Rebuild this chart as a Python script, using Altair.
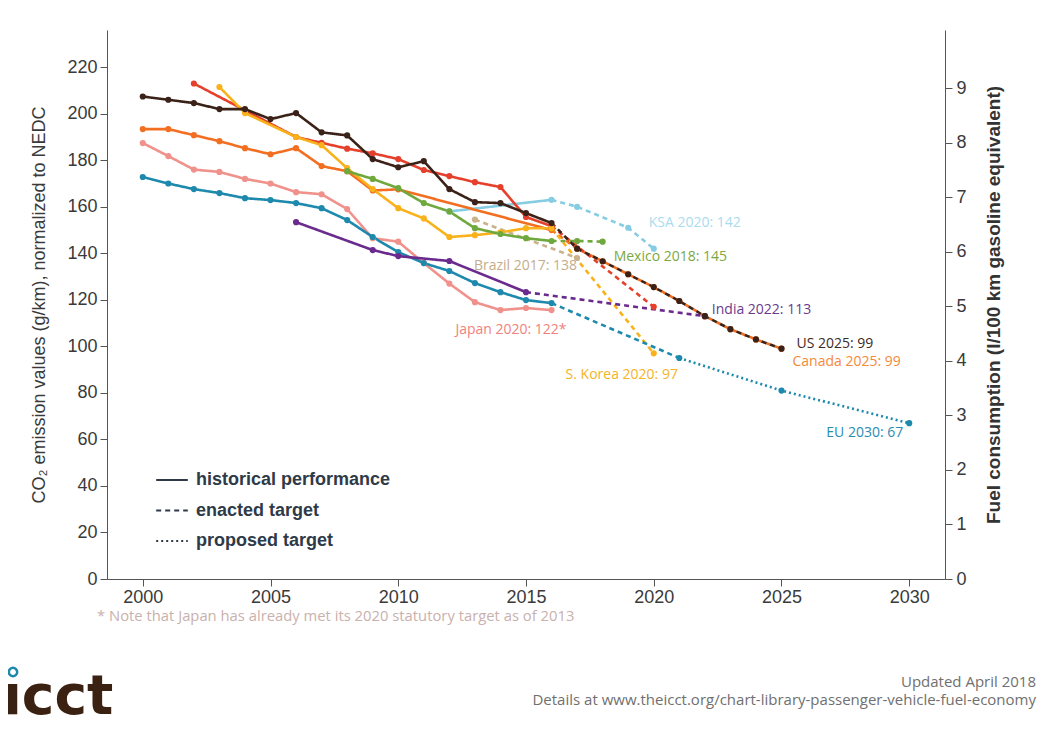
import altair as alt
import pandas as pd

# ---------------- data ----------------
HIST, ENACTED, PROPOSED = "historical performance", "enacted target", "proposed target"

KSA_hist_years = [2012, 2016]
KSA_hist_vals = [158, 163]
KSA_enacted_years = [2017, 2019, 2020]
KSA_enacted_vals = [160, 151, 142]

BR_hist_years = [2013]
BR_hist_vals = [154.5]
BR_enacted_years = [2017]
BR_enacted_vals = [138]

CA_hist_years = [2000, 2001, 2002, 2003, 2004, 2005, 2006, 2007, 2008, 2009, 2010, 2016]
CA_hist_vals = [193.4, 193.4, 190.8, 188.2, 185.2, 182.6, 185.2, 177.5, 175.3, 167.0, 167.5, 150.0]
CA_enacted_years = [2017, 2018, 2019, 2020, 2021, 2022, 2023, 2024, 2025]
CA_enacted_vals = [142, 136.6, 131, 125.5, 119.5, 113, 107.4, 103, 99]

CN_hist_years = [2002, 2006, 2007, 2008, 2009, 2010, 2011, 2012, 2013, 2014, 2015, 2016]
CN_hist_vals = [213, 190, 187.5, 185, 183, 180.5, 175.8, 173.2, 170.6, 168.5, 155.6, 151.7]
CN_enacted_years = [2020]
CN_enacted_vals = [117]

KR_hist_years = [2003, 2004, 2006, 2007, 2008, 2009, 2010, 2011, 2012, 2013, 2014, 2015, 2016]
KR_hist_vals = [211.5, 200.3, 190, 186.5, 176.6, 167.6, 159.4, 155, 147, 147.8, 149, 150.8, 150.8]
KR_enacted_years = [2020]
KR_enacted_vals = [97]

MX_hist_years = [2008, 2009, 2010, 2011, 2012, 2013, 2014, 2015, 2016]
MX_hist_vals = [175.3, 172, 168, 161.6, 158, 150.8, 148.3, 146.5, 145.3]
MX_enacted_years = [2017, 2018]
MX_enacted_vals = [145.3, 145]

JP_hist_years = list(range(2000, 2017))
JP_hist_vals = [187.4, 181.8, 176, 175, 172, 170, 166.3, 165.4, 159, 146.5, 145, 135.8, 127, 119, 115.6, 116.5, 115.6]

EU_hist_years = list(range(2000, 2017))
EU_hist_vals = [172.8, 170, 167.6, 165.9, 163.7, 162.9, 161.6, 159.4, 154.3, 147, 140.5, 135.8, 132.4, 127.2, 123.3, 119.9, 118.6]
EU_enacted_years = [2021]
EU_enacted_vals = [95]
EU_proposed_years = [2025, 2030]
EU_proposed_vals = [81, 67]

IN_hist_years = [2006, 2009, 2010, 2012, 2015]
IN_hist_vals = [153.4, 141.4, 138.8, 136.7, 123.3]
IN_enacted_years = [2022]
IN_enacted_vals = [113]

US_hist_years = list(range(2000, 2017))
US_hist_vals = [207.4, 206.0, 204.6, 202.0, 202.0, 197.7, 200.3, 192.0, 190.7, 180.5, 177.0, 179.6, 167.6, 162.0, 161.6, 157.3, 153.0]
US_enacted_years = [2017, 2018, 2019, 2020, 2021, 2022, 2023, 2024, 2025]
US_enacted_vals = [142, 136.6, 131, 125.5, 119.5, 113, 107.4, 103, 99]

countries = ["KSA", "Brazil", "Canada", "China", "S. Korea", "Mexico", "Japan", "EU", "India", "US"]
country_colors = ["#86cde3", "#c9b28c", "#f26f22", "#e5402b", "#f9b21b", "#6fa83d", "#f0918b", "#1d89ad", "#6b2a8d", "#3b2218"]

label_texts = ["KSA 2020: 142", "Mexico 2018: 145", "Brazil 2017: 138", "India 2022: 113", "Japan 2020: 122*",
               "US 2025: 99", "Canada 2025: 99", "S. Korea 2020: 97", "EU 2030: 67"]
label_years = [2020, 2018, 2017, 2022, 2016, 2025, 2025, 2020, 2030]
label_vals = [142, 145, 138, 113, 115.6, 99, 99, 97, 67]
label_colors = ["#a9dced", "#7ba843", "#c4ad8a", "#6b3a8d", "#f0827b", "#3d2a22", "#f5893a", "#f5b325", "#2b8bb0"]

y_ticks = list(range(0, 221, 20))
y2_ticks = list(range(0, 10))
x_ticks = [2000, 2005, 2010, 2015, 2020, 2025, 2030]

# ---------------- build tables ----------------
series = [
    ("KSA", KSA_hist_years, KSA_hist_vals, KSA_enacted_years, KSA_enacted_vals, [], []),
    ("Brazil", BR_hist_years, BR_hist_vals, BR_enacted_years, BR_enacted_vals, [], []),
    ("Canada", CA_hist_years, CA_hist_vals, CA_enacted_years, CA_enacted_vals, [], []),
    ("China", CN_hist_years, CN_hist_vals, CN_enacted_years, CN_enacted_vals, [], []),
    ("S. Korea", KR_hist_years, KR_hist_vals, KR_enacted_years, KR_enacted_vals, [], []),
    ("Mexico", MX_hist_years, MX_hist_vals, MX_enacted_years, MX_enacted_vals, [], []),
    ("Japan", JP_hist_years, JP_hist_vals, [], [], [], []),
    ("EU", EU_hist_years, EU_hist_vals, EU_enacted_years, EU_enacted_vals, EU_proposed_years, EU_proposed_vals),
    ("India", IN_hist_years, IN_hist_vals, IN_enacted_years, IN_enacted_vals, [], []),
    ("US", US_hist_years, US_hist_vals, US_enacted_years, US_enacted_vals, [], []),
]

line_rows, pt_rows = [], []
order = 0
for name, hy, hv, ey, ev, py, pv in series:
    for yr, v in zip(hy, hv):
        line_rows.append(dict(country=name, seg=name + "|h", kind=HIST, year=yr, value=v, o=order))
        pt_rows.append(dict(country=name, year=yr, value=v, o=order))
    order += 1
    last = (hy[-1], hv[-1])
    if ey:
        for yr, v in [last] + list(zip(ey, ev)):
            line_rows.append(dict(country=name, seg=name + "|e", kind=ENACTED, year=yr, value=v, o=order))
        for yr, v in zip(ey, ev):
            pt_rows.append(dict(country=name, year=yr, value=v, o=order))
        last = (ey[-1], ev[-1])
        order += 1
    if py:
        for yr, v in [last] + list(zip(py, pv)):
            line_rows.append(dict(country=name, seg=name + "|p", kind=PROPOSED, year=yr, value=v, o=order))
        for yr, v in zip(py, pv):
            pt_rows.append(dict(country=name, year=yr, value=v, o=order))
        order += 1

lines_df = pd.DataFrame(line_rows)
pts_df = pd.DataFrame(pt_rows)

W, H = 838, 549
x_scale = alt.Scale(domain=[1998.6, 2031.4], nice=False, zero=False)
y_scale = alt.Scale(domain=[0, 236], nice=False)
color_scale = alt.Scale(domain=countries, range=country_colors)
dash_scale = alt.Scale(domain=[HIST, ENACTED, PROPOSED], range=[[1, 0], [5, 4], [2, 3]])

AX_FONT = "Liberation Sans"
TXT_FONT = "Open Sans"

x_enc = alt.X("year:Q", scale=x_scale,
              axis=alt.Axis(values=x_ticks, format="d", title=None, grid=False,
                            labelFont=AX_FONT, labelFontSize=18, labelColor="#3a3a3a",
                            tickSize=7, tickColor="#555", domainColor="#555", labelPadding=2))
y_enc = alt.Y("value:Q", scale=y_scale,
              axis=alt.Axis(values=y_ticks, title="CO₂ emission values (g/km), normalized to NEDC",
                            grid=False, labelFont=AX_FONT, labelFontSize=18, labelColor="#3a3a3a",
                            tickSize=7, tickColor="#555", domainColor="#555", labelPadding=3,
                            titleFont=AX_FONT, titleFontSize=18, titleFontWeight="normal",
                            titleColor="#3a3a3a", titlePadding=18))

lines = alt.Chart(lines_df).mark_line(strokeWidth=2.6).encode(
    x=x_enc, y=y_enc,
    color=alt.Color("country:N", scale=color_scale, legend=None),
    strokeDash=alt.StrokeDash("kind:N", scale=dash_scale,
                              legend=alt.Legend(orient="none", legendX=48, legendY=433, title=None,
                                                symbolType="stroke", symbolStrokeColor="#2e3a48",
                                                symbolStrokeWidth=2.2, symbolSize=1000,
                                                labelFont=AX_FONT, labelFontSize=18, labelFontWeight="bold",
                                                labelColor="#2e3a48", labelOffset=7, rowPadding=4.5,
                                                labelLimit=0)),
    detail="seg:N",
    order="year:Q",
)

points = alt.Chart(pts_df).mark_circle(size=38, opacity=1).encode(
    x=alt.X("year:Q", scale=x_scale), y=alt.Y("value:Q", scale=y_scale),
    color=alt.Color("country:N", scale=color_scale, legend=None),
    order="o:Q",
)

label_layers = []
label_style = [("left", -5, -26), ("left", 11, 15), ("right", 0, 8), ("left", 7, -6), ("right", 15, 20),
               ("left", 15, -5), ("left", 11, 13), ("center", -32, 22), ("right", -6, 10)]
for t, yr, v, c, (al, dx, dy) in zip(label_texts, label_years, label_vals, label_colors, label_style):
    df = pd.DataFrame({"year": [yr], "value": [v], "t": [t]})
    label_layers.append(
        alt.Chart(df).mark_text(align=al, baseline="middle", dx=dx, dy=dy, font=TXT_FONT,
                                fontSize=14, color=c).encode(
            x=alt.X("year:Q", scale=x_scale), y=alt.Y("value:Q", scale=y_scale), text="t:N")
    )

right_df = pd.DataFrame({"fc": y2_ticks})
right_axis = alt.Chart(right_df).mark_point(opacity=0).encode(
    y=alt.Y("fc:Q", scale=alt.Scale(domain=[0, 236 / 23.45], nice=False),
            axis=alt.Axis(orient="right", values=y2_ticks, title="Fuel consumption (l/100 km gasoline equivalent)",
                          grid=False, labelFont=AX_FONT, labelFontSize=18, labelColor="#3a3a3a",
                          tickSize=7, tickColor="#555", domainColor="#555", labelPadding=4,
                          titleFont=AX_FONT, titleFontSize=19, titleFontWeight="bold",
                          titleColor="#333", titleAngle=270, titlePadding=37))
)

footnote = alt.Chart(pd.DataFrame({"t": ["* Note that Japan has already met its 2020 statutory target as of 2013"]})).mark_text(
    align="left", baseline="middle", font=TXT_FONT, fontSize=14.8, color="#c9b1ad").encode(
    text="t:N", x=alt.value(-10), y=alt.value(587))

upd = alt.Chart(pd.DataFrame({"t": ["Updated April 2018"]})).mark_text(
    align="right", baseline="middle", font=TXT_FONT, fontSize=15, color="#707070").encode(
    text="t:N", x=alt.value(929), y=alt.value(652))
det = alt.Chart(pd.DataFrame({"t": ["Details at www.theicct.org/chart-library-passenger-vehicle-fuel-economy"]})).mark_text(
    align="right", baseline="middle", font=TXT_FONT, fontSize=15, color="#707070").encode(
    text="t:N", x=alt.value(929), y=alt.value(670))

logo = alt.Chart(pd.DataFrame({"t": ["ıcct"]})).mark_text(
    align="left", baseline="alphabetic", font="DejaVu Sans", fontSize=55, fontWeight="bold",
    color="#3b2112").encode(
    text="t:N", x=alt.value(-104), y=alt.value(684))
logo_dot = alt.Chart(pd.DataFrame({"t": ["o"]})).mark_point(
    shape="circle", filled=False, stroke="#1d89ad", strokeWidth=2.5, size=70, opacity=1).encode(
    x=alt.value(-94), y=alt.value(642))

main = alt.layer(lines, points, *label_layers, footnote, upd, det, logo, logo_dot)

chart = alt.layer(main, right_axis).resolve_scale(y="independent").properties(
    width=W, height=H,
    autosize=alt.AutoSizeParams(type="none"),
    padding={"left": 99, "top": 22, "right": 92, "bottom": 140},
    background="white",
).configure_view(stroke=None)

chart.save("out.html", embed_options={"renderer": "svg", "actions": False})
